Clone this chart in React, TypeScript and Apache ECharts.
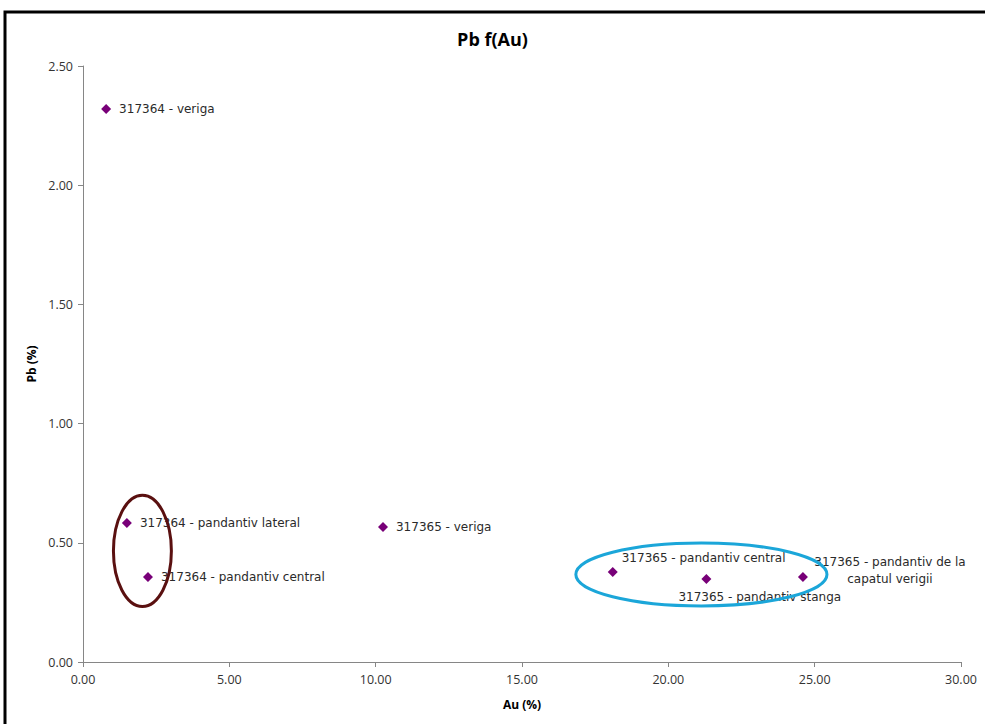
import React, { useEffect, useRef } from "react";
import * as echarts from "echarts";

// ---- data ----
const sampleNames = [
  "317364 - veriga",
  "317364 - pandantiv lateral",
  "317364 - pandantiv central",
  "317365 - veriga",
  "317365 - pandantiv central",
  "317365 - pandantiv stanga",
  "317365 - pandantiv de la\ncapatul verigii",
];
const auValues = [0.79, 1.5, 2.22, 10.25, 18.1, 21.3, 24.6];
const pbValues = [2.32, 0.583, 0.357, 0.566, 0.378, 0.348, 0.357];

const xTicks = [0, 5, 10, 15, 20, 25, 30];
const yTicks = [0, 0.5, 1, 1.5, 2, 2.5];

// grouping ellipses: [centerAu, centerPb, radiusAu, radiusPb]
const groupEllipses = [
  [2.03, 0.466, 0.99, 0.233],
  [21.13, 0.367, 4.29, 0.132],
];
const ellipseColors = ["#5a1010", "#1ba6d9"];

export default function App() {
  const ref = useRef<HTMLDivElement>(null);

  useEffect(() => {
    if (!ref.current) return;
    const chart = echarts.init(ref.current, null, { renderer: "svg" });

    const labelConf: any[] = [
      { position: "right", distance: 8 },
      { position: "right", distance: 8 },
      { position: "right", distance: 8 },
      { position: "right", distance: 8 },
      { position: "right", distance: 4, offset: [0, -14] },
      { position: "right", distance: 4, offset: [-37, 18] },
      { position: "right", distance: 4, offset: [78, -6], align: "center", lineHeight: 17 },
    ];

    const points = auValues.map((x, i) => ({
      value: [x, pbValues[i]],
      name: sampleNames[i],
      label: { show: true, formatter: "{b}", ...labelConf[i] },
    }));

    chart.setOption({
      animation: false,
      backgroundColor: "#ffffff",
      title: {
        text: "Pb f(Au)",
        left: "center",
        top: 25,
        textStyle: {
          fontFamily: "Open Sans",
          fontWeight: "bold",
          fontSize: 18,
          color: "#000",
        },
      },
      graphic: [
        {
          type: "rect",
          z: -1,
          shape: { x: 5, y: 12, width: 1100, height: 900 },
          style: { fill: "none", stroke: "#000", lineWidth: 3 },
        },
      ],
      grid: { left: 83, right: 24, top: 66, bottom: 62 },
      xAxis: {
        type: "value",
        min: xTicks[0],
        max: xTicks[xTicks.length - 1],
        interval: 5,
        name: "Au (%)",
        nameLocation: "middle",
        nameGap: 36,
        nameTextStyle: {
          fontFamily: "Open Sans",
          fontWeight: "bold",
          fontSize: 12,
          color: "#000",
        },
        axisLine: { show: true, lineStyle: { color: "#868686", width: 1 } },
        axisTick: { show: true, length: 5, inside: false, lineStyle: { color: "#868686" } },
        splitLine: { show: false },
        axisLabel: {
          margin: 11,
          fontFamily: "Open Sans",
          fontSize: 12.5,
          color: "#333",
          formatter: (v: number) => v.toFixed(2),
        },
      },
      yAxis: {
        type: "value",
        min: yTicks[0],
        max: yTicks[yTicks.length - 1],
        interval: 0.5,
        name: "Pb (%)",
        nameLocation: "middle",
        nameGap: 46,
        nameRotate: 90,
        nameTextStyle: {
          fontFamily: "Open Sans",
          fontWeight: "bold",
          fontSize: 12,
          color: "#000",
        },
        axisLine: { show: true, lineStyle: { color: "#868686", width: 1 } },
        axisTick: { show: true, length: 5, inside: false, lineStyle: { color: "#868686" } },
        splitLine: { show: false },
        axisLabel: {
          margin: 10,
          fontFamily: "Open Sans",
          fontSize: 12.5,
          color: "#333",
          formatter: (v: number) => v.toFixed(2),
        },
      },
      series: [
        {
          type: "scatter",
          symbol: "diamond",
          symbolSize: 10,
          itemStyle: { color: "#780078", opacity: 1 },
          label: {
            fontFamily: "DejaVu Sans",
            fontSize: 12,
            color: "#2a2a2a",
          },
          data: points,
          z: 2,
        },
        {
          type: "custom",
          z: 5,
          silent: true,
          clip: false,
          encode: { x: 0, y: 1 },
          data: groupEllipses,
          renderItem: (params: any, api: any) => {
            const c = api.coord([api.value(0), api.value(1)]);
            const s = api.size([api.value(2), api.value(3)]);
            return {
              type: "ellipse",
              shape: { cx: c[0], cy: c[1], rx: s[0], ry: s[1] },
              style: {
                fill: "none",
                stroke: ellipseColors[params.dataIndex],
                lineWidth: 3,
              },
            };
          },
        },
      ],
    });

    return () => chart.dispose();
  }, []);

  return (
    <div style={{ position: "fixed", left: 0, top: 0, width: 985, height: 724, background: "#fff" }}>
      <div ref={ref} style={{ width: 985, height: 724 }} />
    </div>
  );
}
